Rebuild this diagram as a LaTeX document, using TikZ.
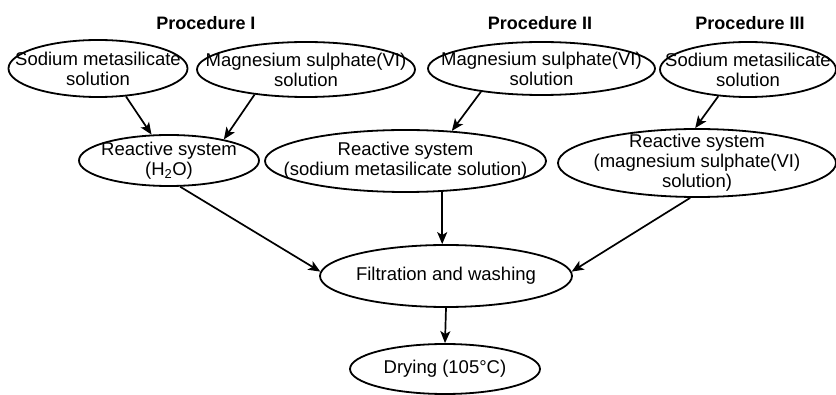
\documentclass[tikz,border=0pt]{standalone}
\usepackage{fontspec}
\setmainfont{Liberation Sans}
\usepackage{tikz}
\usetikzlibrary{shapes.geometric,arrows.meta,calc}

\begin{document}
\begin{tikzpicture}[
      x=1pt, y=-1pt,
      oval/.style={ellipse, draw, line width=1.8pt, inner sep=0pt},
      txt/.style={align=center, inner sep=0pt,
                  font=\fontsize{18.5}{20}\selectfont},
      head/.style={inner sep=0pt, font=\fontsize{18}{20}\selectfont\bfseries},
      arr/.style={-{Stealth[length=12pt,width=10pt,inset=3pt]}, line width=1.7pt},
    ]
    \useasboundingbox (0,0) rectangle (836,395);

    % Headings
    \node[head] (procI)   at (206, 23) {Procedure I};
    \node[head] (procII)  at (540, 23) {Procedure II};
    \node[head] (procIII) at (750, 23) {Procedure III};

    % Row 1: starting solutions
    \node[oval, minimum width=179, minimum height=57,
          label={[txt]center:{Sodium metasilicate\\solution}}] (sodiumA) at (98, 68.5) {};
    \node[oval, minimum width=218, minimum height=55,
          label={[txt]center:{Magnesium sulphate(VI)\\solution}}] (magnesiumA) at (306, 69.5) {};
    \node[oval, minimum width=227, minimum height=53,
          label={[txt]center:{Magnesium sulphate(VI)\\solution}}] (magnesiumB) at (541.5, 68.5) {};
    \node[oval, minimum width=176, minimum height=55,
          label={[txt]center:{Sodium metasilicate\\solution}}] (sodiumC) at (748, 69.5) {};

    % Row 2: reactive systems
    \node[oval, minimum width=180, minimum height=51,
          label={[txt]center:{Reactive system\\(H\textsubscript{2}O)}}] (reactA) at (169, 160.5) {};
    \node[oval, minimum width=281, minimum height=62,
          label={[txt]center:{Reactive system\\(sodium metasilicate solution)}}] (reactB) at (405.5, 161) {};
    \node[oval, minimum width=278, minimum height=68,
          label={[txt]center:{Reactive system\\(magnesium sulphate(VI)\\solution)}}] (reactC) at (697, 163) {};

    % Row 3 and 4: common steps
    \node[oval, minimum width=252, minimum height=62,
          label={[txt]center:{Filtration and washing}}] (filtration) at (446, 276) {};
    \node[oval, minimum width=190, minimum height=50,
          label={[txt]center:{Drying (105°C)}}] (drying) at (445, 369) {};

    % Arrows: solutions to reactive systems
    \draw[arr] (sodiumA.-45) -- (reactA.124);
    \draw[arr] (magnesiumA.206) -- (reactA.21.6);
    \draw[arr] (magnesiumB.201.5) -- (reactB.33.4);
    \draw[arr] (sodiumC.222.9) -- (reactC.93);

    % Arrows: reactive systems to filtration
    \draw[arr] (reactA.-67) -- (filtration.178);
    \draw[arr] (reactB.-40.6) -- (reactB.-40.6 |- filtration.north);
    \draw[arr] (reactC.-101.6) -- (filtration.2.7);

    % Arrow: filtration to drying
    \draw[arr] (filtration.south) -- (drying.north);

    \end{tikzpicture}
\end{document}
